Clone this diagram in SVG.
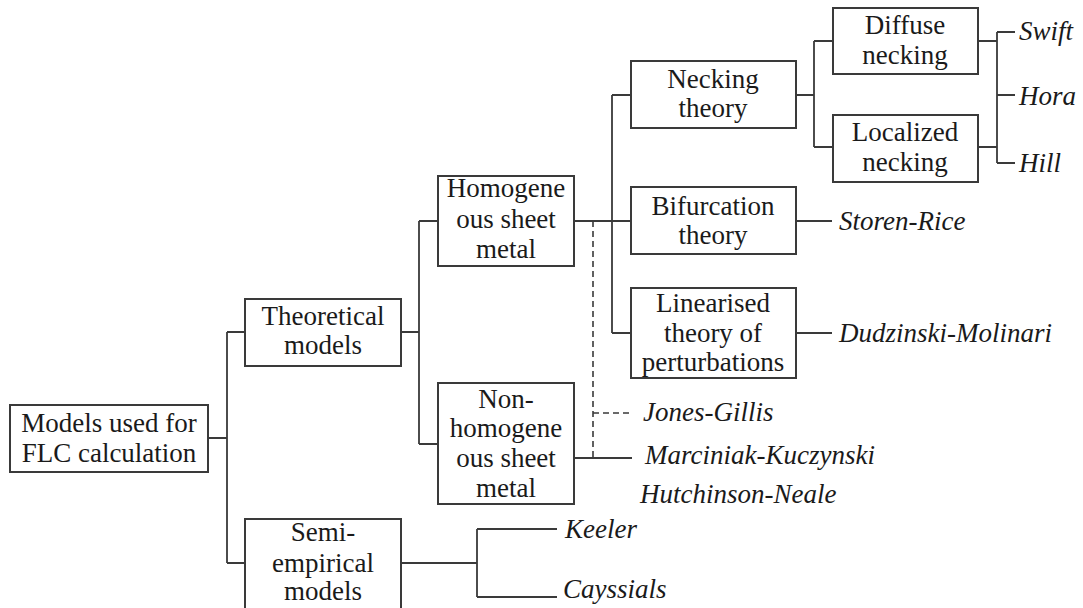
<svg xmlns="http://www.w3.org/2000/svg" width="1083" height="608" viewBox="0 0 1083 608">
<style>
.box{fill:#fff;stroke:#3a3a3a;stroke-width:2}
.ln{fill:none;stroke:#3a3a3a;stroke-width:1.8}
.dash{fill:none;stroke:#3a3a3a;stroke-width:1.6;stroke-dasharray:6 4}
.t{text-anchor:middle}
.i{font-style:italic}
</style>
<rect width="1083" height="608" fill="#fff"/>
<g id="connectors">
<path class="ln" d="M208 438H227M227 332V563M227 332H245M227 563H245"/>
<path class="ln" d="M401 332H419M419 221V444M419 221H438M419 444H438"/>
<path class="ln" d="M574 221H631M612 95V333M612 95H631M612 333H631"/>
<path class="ln" d="M796 95H814M814 41V147M814 41H833M814 147H833"/>
<path class="ln" d="M978 41H997M978 147H997M997 32V163M997 32H1015M997 95H1015M997 163H1015"/>
<path class="ln" d="M796 221H832M796 333H832"/>
<path class="ln" d="M574 458H632"/>
<path class="dash" d="M593 221V458M593 413H632"/>
<path class="ln" d="M401 563H477M477 529V597M477 529H557M477 597H557"/>
</g>
<g font-family="Liberation Serif, serif" font-size="27" fill="#1a1a1a">
<g id="n-models"><rect class="box" x="10" y="405" width="198" height="67"/><text class="t" x="109" y="432">Models used for</text><text class="t" x="109" y="462">FLC calculation</text></g>
<g id="n-theoretical"><rect class="box" x="245" y="299" width="156" height="67"/><text class="t" x="323" y="325">Theoretical</text><text class="t" x="323" y="354">models</text></g>
<g id="n-semi"><rect class="box" x="245" y="519" width="156" height="92"/><text class="t" x="323" y="541">Semi-</text><text class="t" x="323" y="572">empirical</text><text class="t" x="323" y="600">models</text></g>
<g id="n-homogene"><rect class="box" x="438" y="176" width="136" height="90"/><text class="t" x="506" y="197">Homogene</text><text class="t" x="506" y="228">ous sheet</text><text class="t" x="506" y="258">metal</text></g>
<g id="n-nonhomogene"><rect class="box" x="438" y="383" width="136" height="121"/><text class="t" x="506" y="408">Non-</text><text class="t" x="506" y="437">homogene</text><text class="t" x="506" y="467">ous sheet</text><text class="t" x="506" y="497">metal</text></g>
<g id="n-necking"><rect class="box" x="631" y="61" width="165" height="67"/><text class="t" x="713" y="88">Necking</text><text class="t" x="713" y="117">theory</text></g>
<g id="n-diffuse"><rect class="box" x="833" y="8" width="145" height="66"/><text class="t" x="905" y="34">Diffuse</text><text class="t" x="905" y="64">necking</text></g>
<g id="n-localized"><rect class="box" x="833" y="115" width="145" height="67"/><text class="t" x="905" y="141">Localized</text><text class="t" x="905" y="171">necking</text></g>
<g id="n-bifurcation"><rect class="box" x="631" y="187" width="165" height="67"/><text class="t" x="713" y="215">Bifurcation</text><text class="t" x="713" y="244">theory</text></g>
<g id="n-linearised"><rect class="box" x="631" y="288" width="165" height="90"/><text class="t" x="713" y="312">Linearised</text><text class="t" x="713" y="342">theory of</text><text class="t" x="713" y="371">perturbations</text></g>
<g id="labels">
<text class="i" x="1019" y="40">Swift</text>
<text class="i" x="1019" y="105">Hora</text>
<text class="i" x="1019" y="172">Hill</text>
<text class="i" x="839" y="230">Storen-Rice</text>
<text class="i" x="839" y="342">Dudzinski-Molinari</text>
<text class="i" x="643" y="421">Jones-Gillis</text>
<text class="i" x="645" y="464">Marciniak-Kuczynski</text>
<text class="i" x="640" y="503">Hutchinson-Neale</text>
<text class="i" x="565" y="538">Keeler</text>
<text class="i" x="563" y="598">Cayssials</text>
</g>
</g>
</svg>
